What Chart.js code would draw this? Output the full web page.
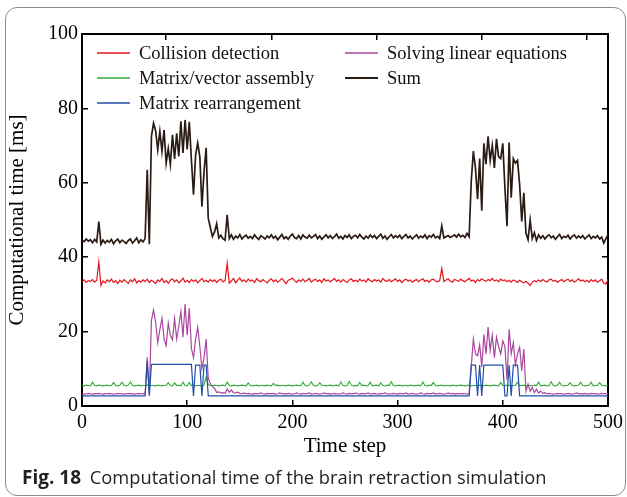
<!DOCTYPE html>
<html>
<head>
<meta charset="utf-8">
<script src="https://cdn.jsdelivr.net/npm/chart.js@4.4.0/dist/chart.umd.min.js"></script>
<style>
  html, body { margin: 0; padding: 0; background: #fff; }
  body { width: 627px; height: 497px; position: relative; overflow: hidden; }
  #frame {
    position: absolute; left: 5px; top: 7px; width: 619px; height: 487px;
    border: 1.5px solid #8c8c8c; border-radius: 12px;
  }
  #chartBox { position: absolute; left: 0; top: 0; width: 627px; height: 470px; }
  #caption {
    position: absolute; left: 22px; top: 464px; white-space: nowrap;
    font-family: "Open Sans", sans-serif; font-size: 18.3px; color: #231f20;
  }
  #caption b { font-weight: bold; font-size: 19px; margin-right: 4px; }
</style>
</head>
<body>
<div id="frame"></div>
<div id="chartBox"><canvas id="timeChart"></canvas></div>
<div id="caption"><b>Fig. 18</b> Computational time of the brain retraction simulation</div>

<script>
// time step axis: samples every 2 steps, 0..500
const timeSteps = Array.from({ length: 251 }, (_, i) => i * 2);

const xTicks = [0, 100, 200, 300, 400, 500];
const xTopTicks = [80, 180, 280, 380, 480];
const yTicks = [0, 20, 40, 60, 80, 100];

const seriesNames = [
  "Collision detection",
  "Matrix/vector assembly",
  "Matrix rearrangement",
  "Solving linear equations",
  "Sum"
];
const seriesColors = ["#e4141c", "#33a83a", "#2150a6", "#a9479e", "#2b1b15"];

// values in ms, one row = 10 samples (20 time steps)
const collision = [
  33.4, 33.9, 33.2, 33.7, 33.5, 34.0, 33.3, 33.8, 38.7, 32.4,
  33.6, 33.1, 33.9, 33.4, 34.1, 33.2, 33.7, 32.9, 33.8, 33.3,
  34.0, 33.5, 33.0, 33.9, 33.4, 34.2, 33.1, 33.7, 33.3, 33.9,
  33.5, 34.1, 33.2, 33.8, 33.4, 32.9, 33.9, 33.5, 34.3, 33.2,
  33.7, 33.0, 33.8, 34.2, 33.4, 33.9, 33.1, 33.6, 34.4, 33.3,
  33.8, 33.2, 34.0, 33.5, 33.9, 33.1, 33.7, 34.3, 33.4, 33.8,
  33.3, 34.0, 33.5, 33.9, 33.2, 33.8, 34.1, 33.4, 33.7, 38.4,
  33.0, 33.6, 34.3, 33.1, 33.8, 34.4, 33.5, 33.9, 33.3, 34.1,
  33.6, 33.9, 33.2, 34.2, 33.7, 33.4, 34.0, 33.5, 33.1, 33.8,
  34.2, 33.4, 33.9, 33.3, 33.7, 34.3, 33.6, 32.9, 33.8, 34.0,
  34.4, 33.7, 33.2, 33.9, 33.5, 34.1, 33.4, 33.8, 34.3, 33.3,
  33.8, 34.1, 33.5, 33.9, 33.2, 34.2, 33.6, 33.9, 33.4, 33.8,
  34.3, 33.5, 33.9, 33.3, 34.0, 33.6, 33.2, 33.9, 34.2, 33.5,
  33.8, 33.4, 34.1, 33.6, 33.9, 33.3, 34.2, 33.7, 33.4, 34.0,
  33.6, 33.9, 33.3, 34.3, 33.7, 33.5, 34.0, 33.4, 33.8, 34.2,
  33.5, 33.9, 33.2, 33.8, 34.1, 33.6, 33.9, 33.3, 33.7, 34.0,
  33.4, 33.9, 34.2, 33.5, 33.8, 33.3, 33.9, 34.1, 33.6, 33.4,
  33.7, 37.0, 33.5, 33.9, 34.2, 33.6, 33.3, 34.0, 33.8, 33.5,
  34.1, 33.7, 33.4, 33.9, 34.3, 33.6, 33.9, 33.2, 34.0, 33.6,
  34.2, 33.8, 33.5, 34.0, 33.7, 34.3, 33.6, 33.9, 33.4, 34.1,
  33.7, 33.9, 33.4, 33.8, 33.3, 33.9, 33.6, 33.2, 33.8, 33.4,
  33.1, 33.5, 33.0, 32.4, 33.3, 33.7, 33.4, 33.9, 33.5, 34.0,
  33.6, 33.3, 33.9, 34.1, 33.5, 33.8, 33.2, 33.7, 34.0, 33.4,
  33.8, 34.1, 33.5, 33.9, 33.3, 33.7, 34.2, 33.6, 33.9, 33.4,
  33.8, 33.3, 34.0, 33.5, 33.9, 33.2, 33.7, 34.1, 33.0, 32.8,
  34.0
];

const assembly = [
  5.5, 5.4, 5.6, 5.5, 5.4, 6.4, 5.5, 5.4, 5.6, 5.5,
  5.4, 5.5, 5.6, 5.4, 5.5, 6.3, 5.5, 5.4, 5.6, 6.4,
  5.5, 5.4, 5.6, 6.5, 5.5, 5.4, 5.5, 5.6, 5.4, 5.5,
  5.5, 5.6, 5.4, 5.5, 5.5, 5.4, 5.6, 5.5, 5.4, 5.5,
  5.6, 6.3, 5.5, 5.4, 6.2, 5.5, 5.6, 5.4, 6.4, 5.5,
  5.4, 6.3, 5.5, 5.6, 5.4, 5.5, 5.5, 5.4, 5.6, 7.8,
  5.7, 5.5, 5.4, 5.6, 5.5, 5.4, 5.5, 5.6, 5.4, 6.4,
  5.5, 5.4, 5.6, 5.5, 5.4, 5.5, 5.6, 5.5, 5.4, 6.2,
  5.5, 5.4, 5.5, 5.6, 5.4, 5.5, 5.5, 5.4, 5.6, 5.5,
  5.4, 6.1, 5.5, 5.6, 5.4, 5.5, 5.5, 5.4, 5.6, 5.5,
  5.4, 5.5, 5.6, 5.5, 5.4, 6.4, 5.5, 5.4, 5.6, 6.5,
  5.5, 5.4, 5.5, 6.3, 5.6, 5.5, 5.4, 5.5, 5.6, 5.4,
  5.5, 5.6, 5.4, 6.5, 5.5, 5.4, 5.5, 6.6, 5.6, 5.4,
  5.5, 5.4, 6.3, 5.5, 5.6, 5.4, 5.5, 6.4, 5.4, 5.5,
  5.6, 5.4, 6.2, 5.5, 5.4, 5.6, 5.5, 6.5, 5.5, 5.4,
  5.5, 5.6, 5.4, 5.5, 5.5, 5.4, 5.6, 5.5, 5.4, 5.5,
  5.6, 5.4, 6.4, 5.5, 5.4, 5.6, 5.5, 6.3, 5.5, 5.4,
  5.5, 5.6, 5.4, 5.5, 5.5, 5.4, 5.6, 5.5, 5.4, 5.5,
  5.6, 5.5, 5.4, 5.5, 5.6, 5.4, 5.5, 5.5, 5.4, 5.6,
  5.5, 5.4, 5.6, 5.5, 5.4, 5.5, 5.6, 5.5, 5.4, 6.3,
  5.5, 5.4, 5.6, 5.5, 5.4, 5.5, 5.6, 6.4, 5.4, 5.5,
  5.6, 5.4, 5.5, 5.5, 5.4, 5.6, 5.5, 6.4, 5.4, 5.5,
  5.6, 5.4, 5.5, 6.5, 5.5, 5.4, 5.6, 6.4, 5.5, 5.4,
  5.5, 5.6, 6.3, 5.5, 5.4, 5.5, 5.6, 6.4, 5.5, 5.4,
  5.5, 5.6, 6.4, 5.4, 5.5, 5.5, 6.3, 5.6, 5.5, 5.4,
  5.5
];

const rearrangement = [
  2.7, 2.7, 2.7, 2.7, 2.7, 2.7, 2.7, 2.7, 2.7, 2.7,
  2.7, 2.7, 2.7, 2.7, 2.7, 2.7, 2.7, 2.7, 2.7, 2.7,
  2.7, 2.7, 2.7, 2.7, 2.7, 2.7, 2.7, 2.7, 2.7, 2.7,
  2.7, 12.0, 2.7, 11.2, 11.2, 11.2, 11.2, 11.2, 11.2, 11.2,
  11.2, 11.2, 11.2, 11.2, 11.2, 11.2, 11.2, 11.2, 11.2, 11.2,
  11.2, 11.2, 11.2, 2.7, 11.0, 11.0, 11.0, 2.7, 11.0, 11.0,
  2.7, 2.7, 2.7, 2.7, 2.7, 2.7, 2.7, 2.7, 2.7, 2.7,
  2.7, 2.7, 2.7, 2.7, 2.7, 2.7, 2.7, 2.7, 2.7, 2.7,
  2.7, 2.7, 2.7, 2.7, 2.7, 2.7, 2.7, 2.7, 2.7, 2.7,
  2.7, 2.7, 2.7, 2.7, 2.7, 2.7, 2.7, 2.7, 2.7, 2.7,
  2.7, 2.7, 2.7, 2.7, 2.7, 2.7, 2.7, 2.7, 2.7, 2.7,
  2.7, 2.7, 2.7, 2.7, 2.7, 2.7, 2.7, 2.7, 2.7, 2.7,
  2.7, 2.7, 2.7, 2.7, 2.7, 2.7, 2.7, 2.7, 2.7, 2.7,
  2.7, 2.7, 2.7, 2.7, 2.7, 2.7, 2.7, 2.7, 2.7, 2.7,
  2.7, 2.7, 2.7, 2.7, 2.7, 2.7, 2.7, 2.7, 2.7, 2.7,
  2.7, 2.7, 2.7, 2.7, 2.7, 2.7, 2.7, 2.7, 2.7, 2.7,
  2.7, 2.7, 2.7, 2.7, 2.7, 2.7, 2.7, 2.7, 2.7, 2.7,
  2.7, 2.7, 2.7, 2.7, 2.7, 2.7, 2.7, 2.7, 2.7, 2.7,
  2.7, 2.7, 2.7, 2.7, 2.7, 11.0, 11.0, 11.0, 2.7, 11.0,
  2.7, 11.0, 11.0, 11.0, 11.0, 11.0, 11.0, 11.0, 11.0, 11.0,
  11.0, 2.7, 2.7, 11.0, 2.7, 11.0, 11.0, 11.0, 2.7, 2.7,
  2.7, 2.7, 2.7, 2.7, 2.7, 2.7, 2.7, 2.7, 2.7, 2.7,
  2.7, 2.7, 2.7, 2.7, 2.7, 2.7, 2.7, 2.7, 2.7, 2.7,
  2.7, 2.7, 2.7, 2.7, 2.7, 2.7, 2.7, 2.7, 2.7, 2.7,
  2.7, 2.7, 2.7, 2.7, 2.7, 2.7, 2.7, 2.7, 2.7, 2.7,
  2.7
];

const solving = [
  3.3, 3.2, 3.3, 3.4, 3.3, 3.2, 3.3, 3.3, 3.4, 3.3,
  3.2, 3.3, 3.3, 3.4, 3.3, 3.2, 3.3, 3.4, 3.3, 3.3,
  3.2, 3.3, 3.4, 3.3, 3.3, 3.2, 3.3, 3.4, 3.3, 3.3,
  3.3, 13.1, 3.5, 23.0, 25.8, 22.5, 17.0, 20.5, 23.6, 18.0,
  16.2, 22.3, 19.0, 17.8, 23.5, 18.0, 21.5, 25.4, 18.5, 27.4,
  19.0, 26.3, 15.5, 13.0, 18.0, 21.2, 16.0, 10.0, 13.0, 18.0,
  7.5, 6.0, 5.2, 4.8, 3.6, 3.8, 3.5, 3.6, 3.4, 4.6,
  3.7, 4.3, 3.6, 3.5, 3.7, 3.4, 3.3, 3.5, 3.3, 3.4,
  3.3, 3.2, 3.4, 3.3, 3.3, 3.5, 3.3, 3.2, 3.4, 3.3,
  3.3, 3.4, 3.2, 3.3, 3.5, 3.3, 3.3, 3.2, 3.4, 3.3,
  3.2, 3.3, 3.5, 3.3, 3.2, 3.4, 3.3, 3.3, 3.5, 3.2,
  3.3, 3.4, 3.3, 3.2, 3.3, 3.5, 3.3, 3.4, 3.2, 3.3,
  3.4, 3.3, 3.2, 3.3, 3.5, 3.3, 3.2, 3.4, 3.3, 3.3,
  3.5, 3.3, 3.2, 3.4, 3.3, 3.3, 3.5, 3.2, 3.3, 3.4,
  3.3, 3.2, 3.4, 3.3, 3.5, 3.3, 3.2, 3.3, 3.4, 3.3,
  3.2, 3.4, 3.3, 3.3, 3.5, 3.2, 3.3, 3.4, 3.3, 3.2,
  3.3, 3.5, 3.3, 3.2, 3.4, 3.3, 3.3, 3.5, 3.2, 3.3,
  3.4, 3.3, 3.2, 3.3, 3.5, 3.3, 3.4, 3.2, 3.3, 3.3,
  3.3, 3.4, 3.3, 3.2, 3.3, 10.5, 18.0, 14.0, 13.5, 16.5,
  10.5, 19.3, 14.0, 21.2, 15.0, 19.0, 13.0, 18.5, 16.0, 14.0,
  17.5, 16.0, 7.0, 20.6, 14.0, 17.0, 11.0, 14.0, 15.8, 9.5,
  15.3, 4.0, 5.9, 4.0, 5.0, 3.6, 4.5, 3.5, 4.0, 3.4,
  3.6, 3.3, 3.4, 3.3, 3.2, 3.3, 3.4, 3.3, 3.3, 3.2,
  3.3, 3.4, 3.3, 3.2, 3.3, 3.5, 3.3, 3.3, 3.2, 3.4,
  3.3, 3.2, 3.4, 3.3, 3.3, 3.2, 3.3, 3.4, 3.3, 3.3,
  3.3
];

const total = [
  44.6, 44.2, 44.9, 44.3, 44.7, 43.9, 44.8, 44.1, 49.6, 43.5,
  44.6, 43.8, 44.5, 44.0, 44.8, 43.6, 44.4, 44.9, 43.9, 44.6,
  44.2, 43.7, 44.5, 44.9, 43.8, 44.4, 45.2, 43.9, 44.7, 44.1,
  45.0, 63.5, 43.5, 72.5, 76.0, 74.0, 68.9, 73.8, 68.5, 74.2,
  65.3, 69.2, 64.9, 72.9, 66.4, 73.3, 67.1, 76.5, 68.0, 76.9,
  69.0, 76.4, 66.2, 56.8, 67.5, 70.7, 67.0, 53.6, 63.0, 69.4,
  50.5, 48.0, 45.6, 46.8, 49.0, 45.2, 45.9, 45.0, 44.6, 51.4,
  45.0, 46.0, 44.8, 45.7, 45.2, 46.1, 44.9, 45.5, 45.9, 45.1,
  45.6, 45.0, 46.0, 45.3, 44.8, 45.8, 45.4, 44.9, 45.7, 45.2,
  46.0, 45.1, 45.6, 44.7, 45.4, 46.1, 45.0, 45.5, 44.8, 45.7,
  46.2, 45.3, 45.0, 45.8, 44.9, 46.0, 45.4, 45.1, 45.9, 45.2,
  45.6, 46.1, 45.0, 45.7, 44.8, 45.5, 46.0, 45.2, 45.8, 45.0,
  45.5, 46.2, 45.1, 45.6, 44.9, 45.8, 45.3, 46.0, 45.0, 45.6,
  45.9, 45.2, 46.1, 45.4, 44.9, 45.7, 45.1, 46.0, 45.3, 45.8,
  45.0, 45.6, 46.2, 45.1, 45.7, 44.8, 45.5, 46.1, 45.2, 45.8,
  45.3, 45.9, 45.0, 45.6, 46.1, 45.2, 45.7, 44.9, 45.5, 46.0,
  45.1, 45.7, 45.3, 46.0, 45.0, 45.8, 45.4, 46.1, 45.2, 45.6,
  45.0, 48.4, 45.2, 45.5, 45.8, 45.3, 45.6, 46.0, 45.4, 46.2,
  45.5, 45.9, 45.3, 46.4, 45.5, 60.4, 68.5, 64.0, 55.6, 66.5,
  52.5, 70.6, 65.0, 72.5, 66.0, 70.0, 64.0, 71.8, 67.0, 66.5,
  70.6, 58.7, 48.3, 70.8, 56.0, 66.5, 65.3, 66.0, 59.5, 49.6,
  57.3, 46.5, 44.7, 50.0, 45.0, 46.6, 44.5, 46.0, 45.1, 45.8,
  44.9, 45.6, 46.0, 45.2, 45.7, 44.8, 45.5, 46.1, 45.0, 45.6,
  45.3, 45.9, 44.9, 45.6, 46.0, 45.1, 45.7, 45.2, 45.8, 44.9,
  45.5, 46.0, 45.0, 45.6, 45.2, 45.8, 44.9, 45.4, 43.8, 45.0,
  46.0
];

const serif = '"Liberation Serif", "Times New Roman", serif';

// two-column legend drawn inside the plot box
const boxLegend = {
  id: "boxLegend",
  afterDraw(chart) {
    const { ctx, chartArea } = chart;
    const slots = [[0, 0], [0, 1], [0, 2], [1, 0], [1, 1]];
    ctx.save();
    ctx.font = "18.5px " + serif;
    ctx.textBaseline = "middle";
    seriesNames.forEach((name, idx) => {
      const [col, row] = slots[idx];
      const x0 = chartArea.left + 15 + col * 248;
      const y0 = Math.round(chartArea.top + 19 + row * 25);
      ctx.strokeStyle = seriesColors[idx];
      ctx.lineWidth = name === "Sum" ? 2 : 1.5;
      ctx.beginPath();
      ctx.moveTo(x0, y0);
      ctx.lineTo(x0 + 33, y0);
      ctx.stroke();
      ctx.fillStyle = "#111";
      ctx.fillText(name, x0 + 42, y0 + 1);
    });
    ctx.restore();
  }
};

function fixTicks(values) {
  return (scale) => { scale.ticks = values.map((v) => ({ value: v })); };
}

const innerTicks = { drawOnChartArea: false, tickLength: -6, color: "#000", lineWidth: 1.5 };
const axisLine = { display: true, color: "#000", width: 2 };

const ctx = document.getElementById("timeChart").getContext("2d");
const chart = new Chart(ctx, {
  type: "line",
  data: {
    labels: timeSteps,
    datasets: [
      { label: seriesNames[4], data: total, borderColor: seriesColors[4], borderWidth: 1.7 },
      { label: seriesNames[0], data: collision, borderColor: seriesColors[0], borderWidth: 1.2 },
      { label: seriesNames[2], data: rearrangement, borderColor: seriesColors[2], borderWidth: 1.2 },
      { label: seriesNames[3], data: solving, borderColor: seriesColors[3], borderWidth: 1.2 },
      { label: seriesNames[1], data: assembly, borderColor: seriesColors[1], borderWidth: 1.1 }
    ]
  },
  options: {
    responsive: true,
    maintainAspectRatio: false,
    animation: false,
    elements: { point: { radius: 0 }, line: { tension: 0 } },
    layout: { padding: { left: 0, right: 19, top: 34, bottom: 0 } },
    plugins: { legend: { display: false }, tooltip: { enabled: false } },
    scales: {
      x: {
        type: "linear", position: "bottom", min: 0, max: 500,
        afterBuildTicks: fixTicks(xTicks),
        afterFit: (s) => { s.height = 64; s.paddingLeft = 0; s.paddingRight = 0; },
        border: axisLine,
        grid: innerTicks,
        ticks: { color: "#000", font: { family: serif, size: 20 }, padding: 10.5, maxRotation: 0 },
        title: { display: true, text: "Time step", color: "#000",
                 font: { family: serif, size: 21 }, padding: { top: 0, bottom: 10.7 } }
      },
      xTop: {
        type: "linear", position: "top", min: 0, max: 500,
        afterBuildTicks: fixTicks(xTopTicks),
        afterFit: (s) => { s.height = 0; s.paddingLeft = 0; s.paddingRight = 0; },
        border: axisLine,
        grid: innerTicks,
        ticks: { display: false }
      },
      y: {
        type: "linear", position: "left", min: 0, max: 100,
        afterBuildTicks: fixTicks(yTicks),
        afterFit: (s) => { s.width = 82; s.paddingTop = 0; s.paddingBottom = 0; },
        border: axisLine,
        grid: innerTicks,
        ticks: { color: "#000", font: { family: serif, size: 20 }, padding: 10 },
        title: { display: true, text: "Computational time [ms]", color: "#000",
                 font: { family: serif, size: 21 }, padding: { top: 5, bottom: 0 } }
      },
      yRight: {
        type: "linear", position: "right", min: 0, max: 100,
        afterBuildTicks: fixTicks(yTicks),
        afterFit: (s) => { s.width = 0; s.paddingTop = 0; s.paddingBottom = 0; },
        border: axisLine,
        grid: innerTicks,
        ticks: { display: false }
      }
    }
  },
  plugins: [boxLegend]
});
</script>
</body>
</html>
